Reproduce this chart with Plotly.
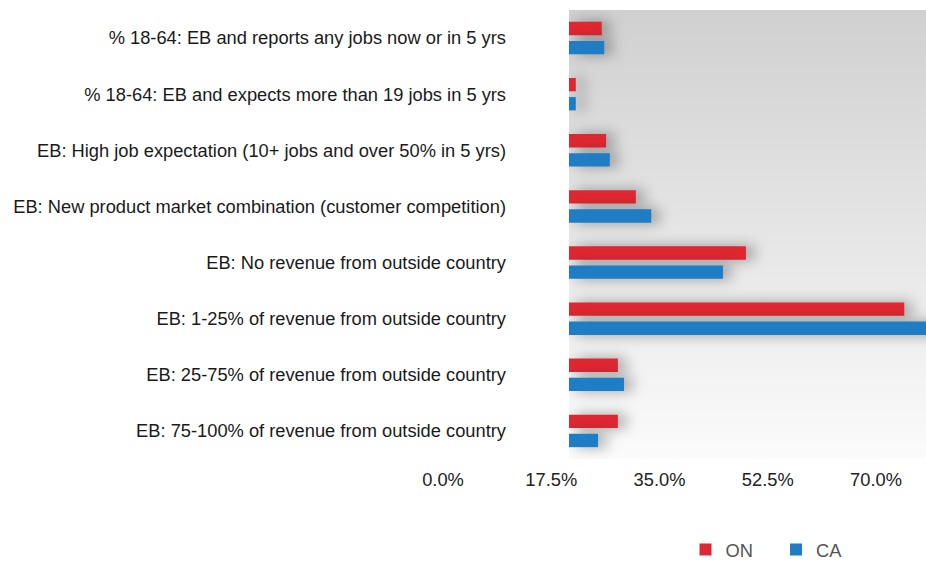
import base64
import plotly.graph_objects as go

categories = [
    "% 18-64: EB and reports any jobs now or in 5 yrs",
    "% 18-64: EB and expects more than 19 jobs in 5 yrs",
    "EB: High job expectation (10+ jobs and over 50% in 5 yrs)",
    "EB: New product market combination (customer competition)",
    "EB: No revenue from outside country",
    "EB: 1-25% of revenue from outside country",
    "EB: 25-75% of revenue from outside country",
    "EB: 75-100% of revenue from outside country",
]
on_values = [5.3, 1.1, 6.0, 10.8, 28.6, 54.2, 7.9, 7.9]
ca_values = [5.7, 1.1, 6.6, 13.3, 24.9, 61.0, 8.9, 4.7]
tick_values = [0, 17.5, 35, 52.5, 70]
tick_labels = ["0.0%", "17.5%", "35.0%", "52.5%", "70.0%"]

W, H = 926, 561
PX_PER_UNIT = 6.186
PLOT_LEFT = 569
LABEL_ZERO = 443
LABEL_AX_LEFT = 400

RED = "#de2731"
BLUE = "#1e7dc5"

svg = (
    "<svg xmlns='http://www.w3.org/2000/svg' width='100' height='100' preserveAspectRatio='none'>"
    "<defs><linearGradient id='g' x1='0' y1='0' x2='0' y2='1'>"
    "<stop offset='0' stop-color='#d0d0d0'/><stop offset='1' stop-color='#fbfbfc'/>"
    "</linearGradient></defs><rect width='100' height='100' fill='url(#g)'/></svg>"
)
bg_src = "data:image/svg+xml;base64," + base64.b64encode(svg.encode()).decode()

fig = go.Figure()
fig.add_trace(go.Bar(y=categories, x=on_values, orientation="h", name="ON",
                     marker=dict(color=RED, line=dict(width=0))))
fig.add_trace(go.Bar(y=categories, x=ca_values, orientation="h", name="CA",
                     marker=dict(color=BLUE, line=dict(width=0))))
# empty helper trace so that the label axis (x2) is drawn
fig.add_trace(go.Scatter(x=[], y=[], xaxis="x2", yaxis="y", showlegend=False,
                         hoverinfo="skip"))

main_max = (W - PLOT_LEFT) / PX_PER_UNIT
lab_min = (LABEL_AX_LEFT - LABEL_ZERO) / PX_PER_UNIT
lab_max = (W - LABEL_ZERO) / PX_PER_UNIT

fig.update_layout(
    width=W, height=H,
    margin=dict(l=0, r=0, t=10, b=102, autoexpand=False),
    paper_bgcolor="white",
    plot_bgcolor="rgba(0,0,0,0)",
    font=dict(family="Liberation Sans, Arial, sans-serif", size=18.3, color="#222222"),
    barmode="group",
    bargap=0.32,
    bargroupgap=0.30,
    xaxis=dict(domain=[PLOT_LEFT / W, 1], range=[0, main_max], showticklabels=False,
               showgrid=False, zeroline=False, showline=False, ticks=""),
    xaxis2=dict(domain=[LABEL_AX_LEFT / W, 1], range=[lab_min, lab_max], anchor="y",
                tickvals=tick_values, ticktext=tick_labels, showgrid=False,
                zeroline=False, showline=False, ticks="outside", ticklen=4,
                tickcolor="rgba(0,0,0,0)", tickfont=dict(size=18.3, color="#222222")),
    yaxis=dict(autorange="reversed", showgrid=False, zeroline=False, showline=False,
               ticks="", ticklabelstandoff=62, tickfont=dict(size=18.3, color="#1a1a1a")),
    legend=dict(orientation="h", x=0.7403, xanchor="left", y=-0.1605, yanchor="top",
                entrywidth=45.5, entrywidthmode="pixels",
                font=dict(size=18.3, color="#555555"), bgcolor="rgba(0,0,0,0)"),
    images=[dict(source=bg_src, xref="x domain", yref="y domain", x=0, y=1,
                 sizex=1, sizey=1, sizing="stretch", xanchor="left", yanchor="top",
                 layer="below")],
)

post = """
document.body.style.margin='0';
function addShadow(){
  document.querySelectorAll('.barlayer .trace.bars .points').forEach(function(g){
    g.style.filter='drop-shadow(8px 0px 7px rgba(0,0,0,0.35))';
  });
}
addShadow();
setTimeout(addShadow, 50);
"""

fig.write_html("out.html", config={"displayModeBar": False}, post_script=post)
